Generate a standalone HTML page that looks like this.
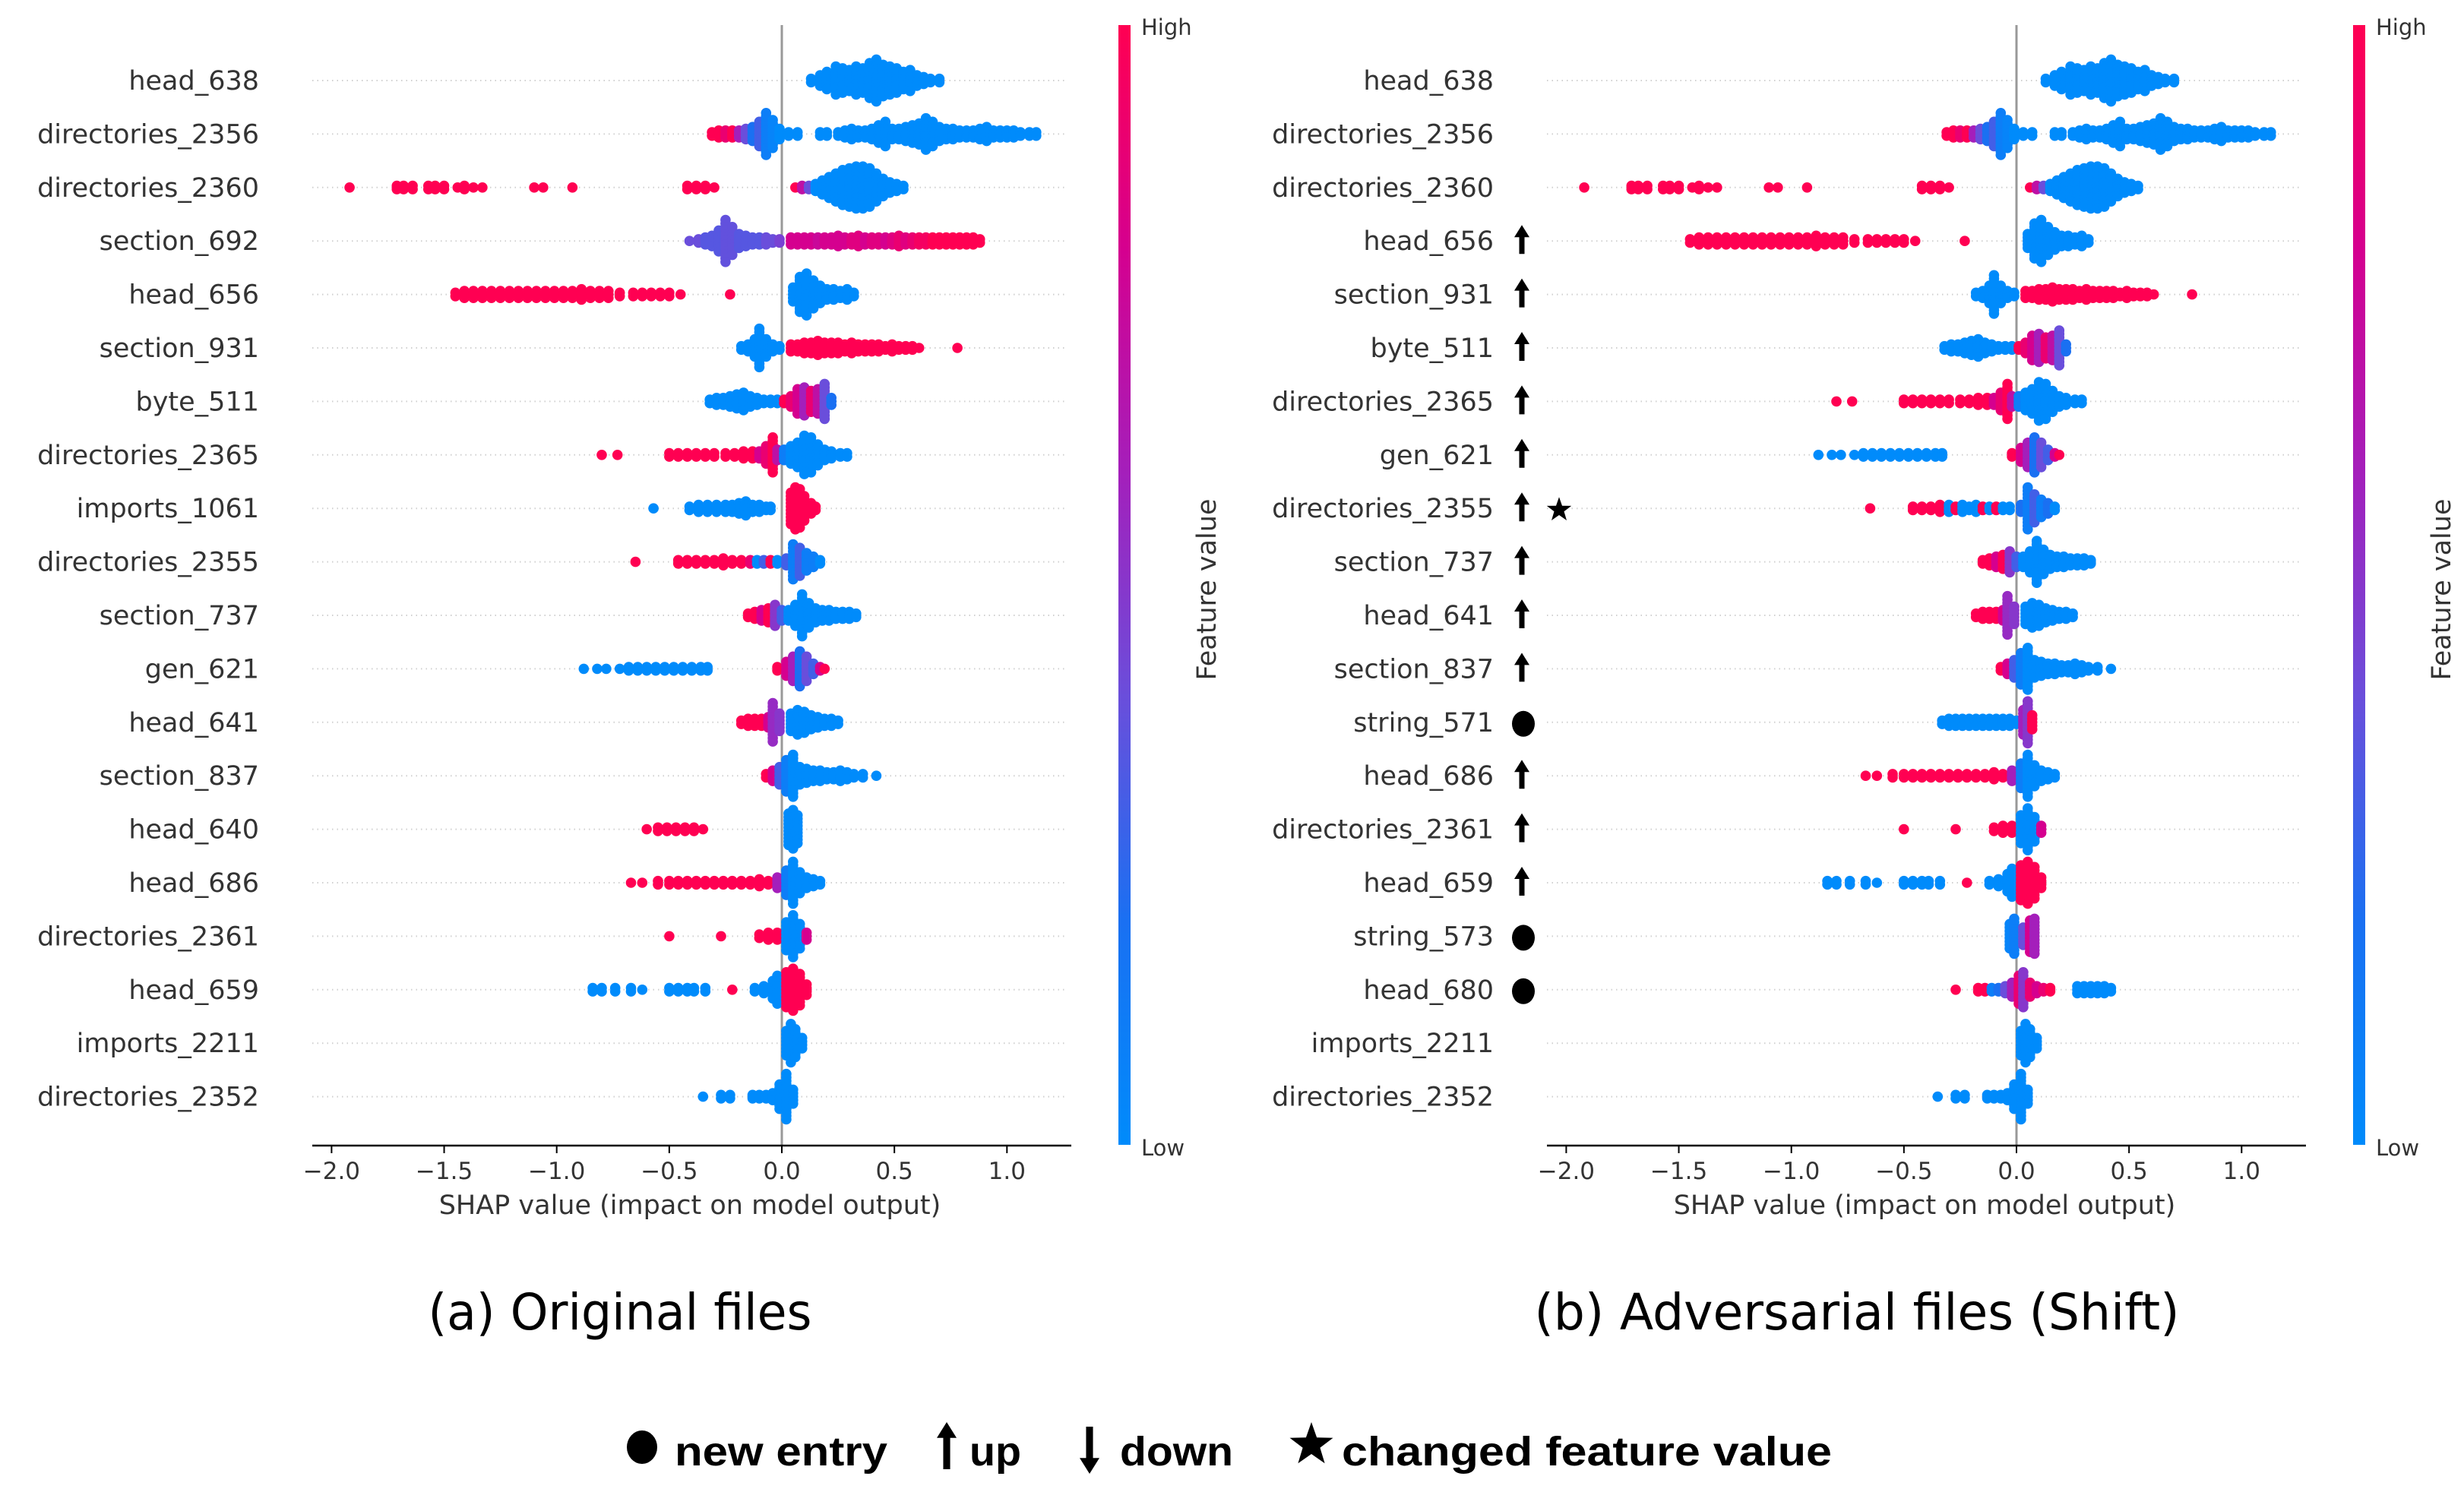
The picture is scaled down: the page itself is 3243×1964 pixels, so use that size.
<!DOCTYPE html>
<html><head><meta charset="utf-8">
<style>
html,body{margin:0;padding:0;background:#fff;}
svg{display:block;}
</style></head>
<body>
<svg id="fig" width="3243" height="1964" viewBox="0 0 3243 1964" xmlns="http://www.w3.org/2000/svg">
<defs>
<linearGradient id="cbar" x1="0" y1="1" x2="0" y2="0">
<stop offset="0" stop-color="#008bfb"/>
<stop offset="0.2" stop-color="#1a70f2"/>
<stop offset="0.4" stop-color="#6a4edb"/>
<stop offset="0.6" stop-color="#a41fbb"/>
<stop offset="0.8" stop-color="#d5008f"/>
<stop offset="1" stop-color="#ff0052"/>
</linearGradient>
</defs>
<g id="panelA"></g>
<g id="panelB"></g>
<g id="legend"></g>
</svg>
<script>
// ---- data: each row = feature groups [shapValue, countOfPoints, featureValue(0 low .. 1 high)]
const ticks = [-2.0, -1.5, -1.0, -0.5, 0.0, 0.5, 1.0];
const tickLabels = ["\u22122.0","\u22121.5","\u22121.0","\u22120.5","0.0","0.5","1.0"];

const rowHead638 = [[0.13,2,0],[0.17,4,0],[0.2,6,0],[0.24,9,0],[0.27,8,0],[0.3,7,0],[0.33,9,0],[0.36,8,0],[0.39,11,0],[0.42,13,0],[0.45,10,0],[0.48,9,0],[0.51,8,0],[0.54,6,0],[0.57,7,0],[0.6,4,0],[0.63,3,0],[0.66,2,0],[0.7,2,0]];
const rowDir2356 = [[-0.31,2,1],[-0.28,3,1],[-0.25,3,0.9],[-0.22,3,1],[-0.19,3,0.6],[-0.16,4,0.4],[-0.13,5,0.2],[-0.1,8,0.3],[-0.07,13,0.1],[-0.04,9,0.05],[-0.01,4,0],[0.03,2,0],[0.07,2,0],[0.17,2,0],[0.2,2,0],[0.25,2,0],[0.28,3,0],[0.31,4,0],[0.34,3,0],[0.37,3,0],[0.4,4,0],[0.43,6,0],[0.46,8,0],[0.49,4,0],[0.52,4,0],[0.55,5,0],[0.58,6,0],[0.61,7,0],[0.64,10,0],[0.67,8,0],[0.7,5,0],[0.73,4,0],[0.76,4,0],[0.79,3,0],[0.82,3,0],[0.85,3,0],[0.88,4,0],[0.91,5,0],[0.94,3,0],[0.97,3,0],[1.0,3,0],[1.03,3,0],[1.06,2,0],[1.1,2,0],[1.13,2,0]];
const rowDir2360 = [[-1.92,1,1],[-1.71,2,1],[-1.68,2,1],[-1.64,2,1],[-1.57,2,1],[-1.54,2,1],[-1.5,2,1],[-1.44,1,1],[-1.41,2,1],[-1.37,1,1],[-1.33,1,1],[-1.1,1,1],[-1.06,1,1],[-0.93,1,1],[-0.42,2,1],[-0.38,2,1],[-0.34,2,1],[-0.3,1,1],[0.06,1,1],[0.09,2,0.7],[0.12,2,0.4],[0.15,3,0],[0.18,5,0],[0.21,7,0],[0.24,9,0],[0.27,11,0],[0.3,12,0],[0.33,13,0],[0.36,13,0],[0.39,12,0],[0.42,9,0],[0.45,6,0],[0.48,4,0],[0.51,3,0],[0.54,2,0]];
const rowSec692 = [[-0.41,1,0.4],[-0.37,2,0.4],[-0.34,3,0.35],[-0.31,4,0.35],[-0.28,7,0.35],[-0.25,13,0.38],[-0.22,9,0.38],[-0.19,5,0.35],[-0.16,4,0.35],[-0.13,3,0.35],[-0.1,3,0.35],[-0.07,3,0.4],[-0.04,2,0.4],[-0.01,2,0.45],[0.04,3,0.8],[0.07,3,0.8],[0.1,3,0.8],[0.13,3,0.8],[0.16,3,0.75],[0.19,3,0.8],[0.22,3,0.8],[0.25,4,0.8],[0.28,3,0.8],[0.31,3,0.85],[0.34,4,0.85],[0.37,3,0.8],[0.4,3,0.85],[0.43,3,0.85],[0.46,3,0.8],[0.49,3,0.85],[0.52,4,0.9],[0.55,3,0.85],[0.58,3,0.9],[0.61,3,0.95],[0.64,3,0.95],[0.67,3,1],[0.7,3,1],[0.73,3,1],[0.76,3,1],[0.79,3,1],[0.82,3,1],[0.85,3,1],[0.88,2,1]];
const rowHead656 = [[-1.45,2,1],[-1.41,3,1],[-1.37,3,1],[-1.33,3,1],[-1.29,3,1],[-1.25,3,1],[-1.21,3,1],[-1.17,3,1],[-1.13,3,1],[-1.09,3,1],[-1.05,3,1],[-1.01,3,1],[-0.97,3,1],[-0.93,3,1],[-0.89,4,1],[-0.85,3,1],[-0.81,3,1],[-0.77,3,1],[-0.72,2,1],[-0.66,2,1],[-0.62,2,1],[-0.58,2,1],[-0.54,2,1],[-0.5,2,1],[-0.45,1,1],[-0.23,1,1],[0.05,5,0],[0.08,11,0],[0.11,13,0],[0.14,9,0],[0.17,6,0],[0.2,4,0],[0.23,4,0],[0.26,3,0],[0.29,4,0],[0.32,2,0]];
const rowSec931 = [[-0.18,2,0],[-0.15,3,0],[-0.12,6,0],[-0.1,12,0],[-0.07,6,0],[-0.04,3,0],[-0.01,2,0],[0.04,3,1],[0.07,3,1],[0.1,4,1],[0.13,4,1],[0.16,5,1],[0.19,4,1],[0.22,4,1],[0.25,4,1],[0.28,3,1],[0.31,4,1],[0.34,3,1],[0.37,3,1],[0.4,3,1],[0.43,3,1],[0.46,2,1],[0.49,3,1],[0.52,2,1],[0.55,2,1],[0.58,2,1],[0.61,1,1],[0.78,1,1]];
const rowByte511 = [[-0.32,2,0],[-0.29,3,0],[-0.26,3,0],[-0.23,4,0],[-0.2,5,0],[-0.17,6,0],[-0.14,4,0],[-0.11,3,0],[-0.08,2,0],[-0.05,2,0],[-0.02,2,0],[0.01,2,1],[0.04,4,0.9],[0.07,8,0.8],[0.1,9,0.6],[0.13,7,0.9],[0.16,8,0.7],[0.19,11,0.4],[0.22,3,0.2]];
const rowDir2365 = [[-0.8,1,1],[-0.73,1,1],[-0.5,2,1],[-0.46,2,1],[-0.42,2,1],[-0.38,2,1],[-0.34,2,1],[-0.3,2,1],[-0.25,2,1],[-0.21,2,1],[-0.17,3,1],[-0.13,3,1],[-0.1,3,0.8],[-0.07,6,0.9],[-0.04,11,1],[-0.02,4,0.7],[0.01,4,0.1],[0.04,6,0],[0.07,8,0],[0.1,12,0],[0.13,11,0],[0.16,7,0],[0.19,4,0],[0.22,3,0],[0.26,2,0],[0.29,2,0]];
const rowImp1061 = [[-0.57,1,0],[-0.41,2,0],[-0.37,3,0],[-0.33,3,0],[-0.29,3,0],[-0.25,3,0],[-0.22,3,0],[-0.19,4,0],[-0.16,5,0],[-0.13,3,0],[-0.1,3,0],[-0.07,2,0],[-0.05,2,0],[0.04,10,1],[0.06,13,1],[0.08,12,1],[0.1,8,1],[0.13,4,1],[0.15,2,1]];
const rowDir2355 = [[-0.65,1,1],[-0.46,2,1],[-0.42,2,1],[-0.38,2,1],[-0.34,2,1],[-0.3,2,1],[-0.26,3,1],[-0.22,2,1],[-0.18,2,1],[-0.14,2,0.9],[-0.11,2,0],[-0.08,2,0.3],[-0.05,2,1],[-0.02,2,0],[0.02,3,0.3],[0.05,11,0.1],[0.08,9,0.3],[0.11,6,0.1],[0.14,4,0.1],[0.17,2,0]];
const rowSec737 = [[-0.15,2,1],[-0.12,3,1],[-0.09,4,0.8],[-0.06,5,1],[-0.03,7,0.5],[0.0,4,0.3],[0.03,4,0],[0.06,7,0],[0.09,13,0],[0.12,8,0],[0.15,5,0],[0.18,4,0],[0.21,4,0],[0.24,3,0],[0.27,3,0],[0.3,3,0],[0.33,2,0]];
const rowGen621 = [[-0.88,1,0],[-0.82,1,0],[-0.78,1,0],[-0.72,1,0],[-0.68,2,0],[-0.64,2,0],[-0.6,2,0],[-0.56,2,0],[-0.52,2,0],[-0.48,2,0],[-0.44,2,0],[-0.4,2,0],[-0.36,2,0],[-0.33,2,0],[-0.02,2,1],[0.02,5,0.8],[0.05,8,0.6],[0.08,11,0.2],[0.11,8,0.4],[0.14,4,0.3],[0.17,2,0.8],[0.19,1,1]];
const rowHead641 = [[-0.18,2,1],[-0.15,3,1],[-0.12,3,1],[-0.09,3,1],[-0.06,4,0.8],[-0.04,12,0.55],[-0.01,6,0.5],[0.04,6,0],[0.07,8,0],[0.1,7,0],[0.13,5,0],[0.16,4,0],[0.19,3,0],[0.22,3,0],[0.25,2,0]];
const rowSec837 = [[-0.07,2,1],[-0.04,4,0.8],[-0.01,6,0.3],[0.02,10,0.1],[0.05,13,0],[0.08,6,0],[0.11,5,0],[0.14,4,0],[0.17,4,0],[0.2,3,0],[0.23,3,0],[0.26,4,0],[0.29,3,0],[0.32,2,0],[0.36,2,0],[0.42,1,0]];
const rowHead640 = [[-0.6,1,1],[-0.55,2,1],[-0.51,2,1],[-0.47,2,1],[-0.43,2,1],[-0.39,2,1],[-0.35,1,1],[0.03,10,0],[0.05,12,0],[0.07,9,0]];
const rowHead686 = [[-0.67,1,1],[-0.62,1,1],[-0.55,2,1],[-0.5,2,1],[-0.46,2,1],[-0.42,2,1],[-0.38,2,1],[-0.34,2,1],[-0.3,2,1],[-0.26,2,1],[-0.22,2,1],[-0.18,2,1],[-0.14,2,1],[-0.1,3,1],[-0.06,2,1],[-0.02,4,0.6],[0.02,8,0.1],[0.05,13,0],[0.08,7,0],[0.11,4,0],[0.14,3,0],[0.17,2,0]];
const rowDir2361 = [[-0.5,1,1],[-0.27,1,1],[-0.1,2,1],[-0.06,3,1],[-0.02,3,1],[0.02,9,0],[0.05,13,0],[0.08,8,0],[0.11,3,0.8]];
const rowHead659 = [[-0.84,2,0],[-0.8,2,0],[-0.74,2,0],[-0.67,2,0],[-0.62,1,0],[-0.5,2,0],[-0.46,2,0],[-0.42,2,0],[-0.39,2,0],[-0.34,2,0],[-0.22,1,1],[-0.12,2,0],[-0.08,3,0],[-0.04,6,0],[-0.02,9,0],[0.02,11,1],[0.05,13,1],[0.08,10,1],[0.11,4,1]];
const rowImp2211 = [[0.02,8,0],[0.04,12,0],[0.06,9,0],[0.09,4,0]];
const rowDir2352 = [[-0.35,1,0],[-0.27,2,0],[-0.23,2,0],[-0.13,2,0],[-0.1,2,0],[-0.07,2,0],[-0.04,3,0],[-0.01,8,0],[0.02,14,0],[0.05,5,0]];
// adversarial-only / changed rows
const rowDir2355Adv = [[-0.65,1,1],[-0.46,2,1],[-0.42,2,1],[-0.38,2,1],[-0.34,3,1],[-0.3,3,0],[-0.27,2,1],[-0.24,3,0],[-0.21,2,0],[-0.18,3,0],[-0.15,2,1],[-0.12,2,0],[-0.09,2,1],[-0.06,2,0],[-0.03,2,0],[0.02,3,0.2],[0.05,13,0.1],[0.08,9,0.3],[0.11,6,0.1],[0.14,4,0.2],[0.17,2,0]];
const rowStr571 = [[-0.33,2,0],[-0.3,3,0],[-0.27,3,0],[-0.24,3,0],[-0.21,3,0],[-0.18,3,0],[-0.15,3,0],[-0.12,3,0],[-0.09,3,0],[-0.06,3,0],[-0.03,3,0],[0.0,2,0],[0.03,8,0.6],[0.05,13,0.5],[0.07,5,1]];
const rowStr573 = [[-0.03,8,0.05],[-0.01,11,0.1],[0.03,6,0.4],[0.06,10,0.8],[0.08,11,0.6]];
const rowHead680 = [[-0.27,1,1],[-0.17,2,1],[-0.14,2,1],[-0.11,2,0.1],[-0.08,2,0.2],[-0.05,3,0.4],[-0.02,5,0.6],[0.01,9,0.9],[0.03,11,0.5],[0.06,5,0.9],[0.09,3,0.8],[0.12,2,0.9],[0.15,2,1],[0.27,3,0],[0.3,3,0],[0.33,3,0],[0.36,3,0],[0.39,3,0],[0.42,2,0]];

const featuresA = ["head_638","directories_2356","directories_2360","section_692","head_656","section_931","byte_511","directories_2365","imports_1061","directories_2355","section_737","gen_621","head_641","section_837","head_640","head_686","directories_2361","head_659","imports_2211","directories_2352"];
const rowsA = [rowHead638,rowDir2356,rowDir2360,rowSec692,rowHead656,rowSec931,rowByte511,rowDir2365,rowImp1061,rowDir2355,rowSec737,rowGen621,rowHead641,rowSec837,rowHead640,rowHead686,rowDir2361,rowHead659,rowImp2211,rowDir2352];
const featuresB = ["head_638","directories_2356","directories_2360","head_656","section_931","byte_511","directories_2365","gen_621","directories_2355","section_737","head_641","section_837","string_571","head_686","directories_2361","head_659","string_573","head_680","imports_2211","directories_2352"];
const rowsB = [rowHead638,rowDir2356,rowDir2360,rowHead656,rowSec931,rowByte511,rowDir2365,rowGen621,rowDir2355Adv,rowSec737,rowHead641,rowSec837,rowStr571,rowHead686,rowDir2361,rowHead659,rowStr573,rowHead680,rowImp2211,rowDir2352];
const markersB = ["","","","up","up","up","up","up","up,star","up","up","up","new","up","up","up","new","new","",""];

// ---- rendering
const NS = "http://www.w3.org/2000/svg";
function mk(parent, tag, attrs, text){
  const e = document.createElementNS(NS, tag);
  for (const k in attrs) e.setAttribute(k, attrs[k]);
  if (text !== undefined) e.textContent = text;
  parent.appendChild(e);
  return e;
}
const stops = [[0,[0,139,251]],[0.2,[26,112,242]],[0.4,[106,78,219]],[0.6,[164,31,187]],[0.8,[213,0,143]],[1,[255,0,82]]];
function colorOf(v){
  for (let i=1;i<stops.length;i++){
    if (v <= stops[i][0]){
      const a=stops[i-1], b=stops[i]; const t=(v-a[0])/(b[0]-a[0]);
      const c=a[1].map((x,j)=>Math.round(x+(b[1][j]-x)*t));
      return "rgb("+c.join(",")+")";
    }
  }
  return "rgb(255,0,82)";
}

function drawPanel(g, dx, features, rows, markers){
  const x0 = 1029 + dx, unit = 296.3;
  const xs = v => x0 + v*unit;
  const yRow = i => 106 + i*70.4;
  const plotL = 411 + dx, plotR = 1405 + dx, axisY = 1508;

  features.forEach((f,i)=>{
    const y = yRow(i);
    const gl = mk(g,"line",{x1:plotL,x2:plotR,y1:y,y2:y,stroke:"#d0d0d0","stroke-width":2,"stroke-dasharray":"1.5,5"});
    
    
    const t = mk(g,"text",{x:341+dx,y:y+12,"text-anchor":"end","font-family":"DejaVu Sans, Liberation Sans, sans-serif","font-size":35,fill:"#333"},f);
    
    
  });

  const zl = mk(g,"line",{x1:x0,x2:x0,y1:33,y2:axisY,stroke:"#999","stroke-width":3});
  
  

  rows.forEach((row,i)=>{
    const y = yRow(i);
    const rg = mk(g,"g",{});
    
    
    const byKey = {};
    row.forEach(gp=>{ const k=gp[0].toFixed(3); byKey[k]=(byKey[k]||0)+gp[1]; });
    const used = {};
    row.forEach(gp=>{
      const k=gp[0].toFixed(3); const tot=byKey[k];
      for (let n=0;n<gp[1];n++){
        const idx = (used[k]=(used[k]||0)+1)-1;
        const off = (idx-(tot-1)/2)*4.6;
        const c = mk(rg,"circle",{cx:xs(gp[0]).toFixed(1),cy:(y+off).toFixed(1),r:6.8,fill:colorOf(gp[2])});
        
        
      }
    });
  });

  const ax = mk(g,"line",{x1:plotL,x2:plotR+5,y1:axisY,y2:axisY,stroke:"#000","stroke-width":2.5});
  
  
  ticks.forEach((v,j)=>{
    const tk = mk(g,"line",{x1:xs(v),x2:xs(v),y1:axisY,y2:axisY+10,stroke:"#000","stroke-width":2});
    
    
    const tl = mk(g,"text",{x:xs(v),y:1552,"text-anchor":"middle","font-family":"DejaVu Sans, Liberation Sans, sans-serif","font-size":31,fill:"#333"},tickLabels[j]);
    
    
  });
  const xt = mk(g,"text",{x:908+dx,y:1598,"text-anchor":"middle","font-family":"DejaVu Sans, Liberation Sans, sans-serif","font-size":35,fill:"#333"},"SHAP value (impact on model output)");
  
  

  const cb = mk(g,"rect",{x:1472+dx,y:33,width:16,height:1474,fill:"url(#cbar)"});
  
  
  const hi = mk(g,"text",{x:1502+dx,y:46,"font-family":"DejaVu Sans, Liberation Sans, sans-serif","font-size":29,fill:"#333"},"High");
  
  
  const lo = mk(g,"text",{x:1502+dx,y:1521,"font-family":"DejaVu Sans, Liberation Sans, sans-serif","font-size":29,fill:"#333"},"Low");
  
  
  const fv = mk(g,"text",{x:0,y:0,"text-anchor":"middle","font-family":"DejaVu Sans, Liberation Sans, sans-serif","font-size":35,fill:"#333",transform:"translate("+(1600+dx)+",776) rotate(-90)"},"Feature value");
  
  

  if (markers){
    markers.forEach((m,i)=>{
      const y = yRow(i);
      if (m.indexOf("up")>=0) upArrow(g, 2003, y-2, 38, 1);
      if (m.indexOf("new")>=0){
        const c = mk(g,"ellipse",{cx:2005,cy:y+2,rx:15,ry:17,fill:"#000"});
        
        
      }
      if (m.indexOf("star")>=0) star(g, 2052, y+2, 17);
    });
  }
}
function upArrow(g, x, cy, h, s){
  const hw=10*s, sw=3.5*s, hh=16*s;
  const p = mk(g,"path",{d:`M${x} ${cy-h/2} L${x+hw} ${cy-h/2+hh} L${x+sw} ${cy-h/2+hh} L${x+sw} ${cy+h/2} L${x-sw} ${cy+h/2} L${x-sw} ${cy-h/2+hh} L${x-hw} ${cy-h/2+hh} Z`,fill:"#000"});
  
  
}
function downArrow(g, x, cy, h, s){
  const hw=10*s, sw=3.5*s, hh=16*s;
  const p = mk(g,"path",{d:`M${x} ${cy+h/2} L${x+hw} ${cy+h/2-hh} L${x+sw} ${cy+h/2-hh} L${x+sw} ${cy-h/2} L${x-sw} ${cy-h/2} L${x-sw} ${cy+h/2-hh} L${x-hw} ${cy+h/2-hh} Z`,fill:"#000"});
  
  
}
function star(g, cx, cy, R){
  let d=""; for(let k=0;k<10;k++){ const r=k%2?R*0.4:R; const a=-Math.PI/2+k*Math.PI/5; d+=(k?"L":"M")+(cx+r*Math.cos(a)).toFixed(1)+" "+(cy+r*Math.sin(a)).toFixed(1)+" "; }
  const p = mk(g,"path",{d:d+"Z",fill:"#000"});
  
  
}

const gA = document.getElementById("panelA");
const gB = document.getElementById("panelB");
drawPanel(gA, 0, featuresA, rowsA, null);
drawPanel(gB, 1625, featuresB, rowsB, markersB);

const capA = mk(gA,"text",{x:816,y:1750,"text-anchor":"middle","font-family":"DejaVu Sans, Liberation Sans, sans-serif","font-size":66,fill:"#000",textLength:505,lengthAdjust:"spacingAndGlyphs"},"(a) Original files");


const capB = mk(gB,"text",{x:2444,y:1750,"text-anchor":"middle","font-family":"DejaVu Sans, Liberation Sans, sans-serif","font-size":66,fill:"#000",textLength:849,lengthAdjust:"spacingAndGlyphs"},"(b) Adversarial files (Shift)");



// legend
const lg = document.getElementById("legend");
const lc = mk(lg,"ellipse",{cx:845,cy:1905,rx:20,ry:22,fill:"#000"});


function legText(x, w, s, name){
  const t = mk(lg,"text",{x:x,y:1929,"font-family":"Liberation Sans, Arial, sans-serif","font-weight":"bold","font-size":54,fill:"#000",textLength:w,lengthAdjust:"spacingAndGlyphs"},s);
  
  
}
legText(888,280,"new entry","legend-new-entry-label");
upArrow(lg,1246,1903,62,1.3);
legText(1276,68,"up","legend-up-label");
downArrow(lg,1434,1909,62,1.3);
legText(1474,149,"down","legend-down-label");
star(lg,1726,1902,30);
legText(1766,645,"changed feature value","legend-changed-label");
</script>
</body></html>
